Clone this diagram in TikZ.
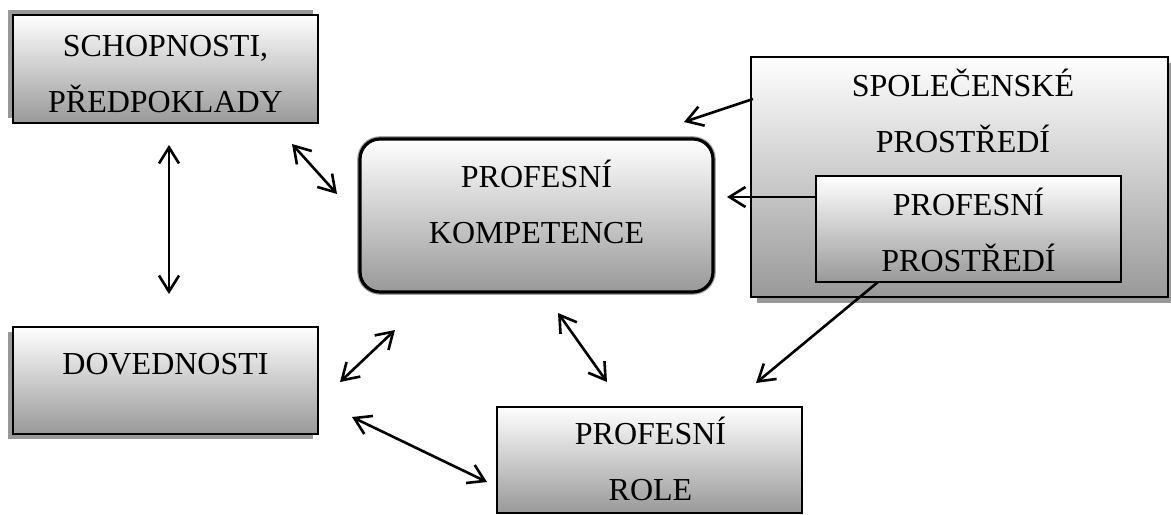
\documentclass[tikz,border=0pt]{standalone}
\usepackage{fontspec}
\setmainfont{Liberation Serif}
\usetikzlibrary{arrows.meta,shadows}

\tikzset{
  box/.style={draw=black, line width=0.9pt, top color=white, bottom color=black!40, inner sep=0pt},
  shadowNW/.style={drop shadow={shadow xshift=-2.5pt, shadow yshift=2.5pt, fill=black!40, opacity=1}},
  shadowSW/.style={drop shadow={shadow xshift=-2.5pt, shadow yshift=-2.5pt, fill=black!40, opacity=1}},
  shadowSE/.style={drop shadow={shadow xshift=3pt, shadow yshift=-3pt, fill=black!40, opacity=1}},
  lbl/.style={align=center, font=\fontsize{16}{28}\selectfont, inner sep=0pt},
  link/.style={line width=1.3pt, >={Straight Barb[length=8pt,width=10pt]}}
}

\begin{document}
\begin{tikzpicture}[x=0.5pt,y=-0.5pt]
\useasboundingbox (0,0) rectangle (1171,514);

% boxes
\node[box, shadowNW, minimum width=152.5pt, minimum height=54pt] (schop) at (165.5,69) {};
\node[box, shadowSW, minimum width=152.5pt, minimum height=53.5pt] (dov) at (165.5,380.5) {};
\node[box, shadowSE, line width=0.7pt, minimum width=208.5pt, minimum height=120pt] (spol) at (959.5,177) {};
\node[box, line width=0.8pt, minimum width=152.5pt, minimum height=53pt] (pp) at (968.5,229) {};
\node[box, minimum width=152.5pt, minimum height=53pt] (role) at (649.5,460) {};
\node[draw=black, line width=1.6pt, rounded corners=10pt, top color=white, bottom color=black!40,
      preaction={draw=black!35, line width=2.8pt}, minimum width=176.5pt, minimum height=76.5pt] (komp) at (536.5,215.5) {};

% labels
\node[lbl] (schopT) at (165.5,74.4) {SCHOPNOSTI,\\PŘEDPOKLADY};
\node[lbl] (dovT) at (165.5,364.4) {DOVEDNOSTI};
\node[lbl] (kompT) at (536.5,202) {PROFESNÍ\\KOMPETENCE};
\node[lbl] (spolT) at (963,111) {SPOLEČENSKÉ\\PROSTŘEDÍ};
\node[lbl] (ppT) at (968.5,230) {PROFESNÍ\\PROSTŘEDÍ};
\node[lbl] (roleT) at (650.5,459) {PROFESNÍ\\ROLE};

% arrow ends
\coordinate (a1s) at (169,145);  \coordinate (a1e) at (169,294);
\coordinate (a2s) at (292,144);  \coordinate (a2e) at (337,194);
\coordinate (a3s) at (753,99);   \coordinate (a3e) at (684,122);
\coordinate (a4s) at (816,197);  \coordinate (a4e) at (727,197);
\coordinate (a5s) at (878,282);  \coordinate (a5e) at (756,383);
\coordinate (a6s) at (340,382);  \coordinate (a6e) at (395,330);
\coordinate (a7s) at (558,313);  \coordinate (a7e) at (607,382);
\coordinate (a8s) at (352,417);  \coordinate (a8e) at (487,482);

% arrows
\draw[link,<->] (a1s) -- (a1e);
\draw[link,<->] (a2s) -- (a2e);
\draw[link,->] (a3s) -- (a3e);
\draw[link,->] (a4s) -- (a4e);
\draw[link,->] (a5s) -- (a5e);
\draw[link,<->] (a6s) -- (a6e);
\draw[link,<->] (a7s) -- (a7e);
\draw[link,<->] (a8s) -- (a8e);
\end{tikzpicture}
\end{document}
